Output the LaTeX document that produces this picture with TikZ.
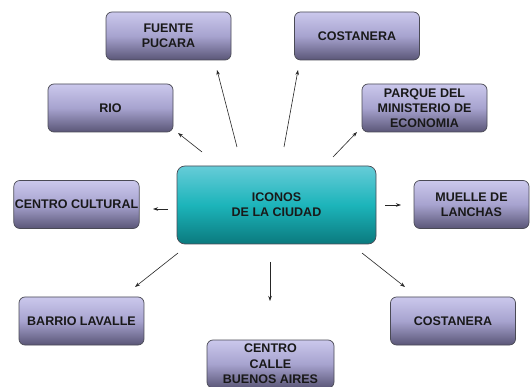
\documentclass[tikz,border=0pt]{standalone}
\usepackage{fontspec}
\setmainfont{Liberation Sans}
\usetikzlibrary{arrows.meta}
\definecolor{pTop}{HTML}{CBC8EC}
\definecolor{pMid}{HTML}{A7A3CF}
\definecolor{pBot}{HTML}{5A5677}
\definecolor{tTop}{HTML}{66CCD8}
\definecolor{tMid}{HTML}{1CB4BA}
\definecolor{tBot}{HTML}{0B7A7E}
\definecolor{edge}{HTML}{4A4A55}
\tikzset{
  leaf/.style={draw=edge, line width=0.7pt, rounded corners=6pt,
    top color=pTop, bottom color=pBot, middle color=pMid,
    minimum width=125pt, minimum height=48pt, inner sep=1pt,
    align=center, font=\fontsize{12.5}{14.8}\selectfont\bfseries, text=black!90},
  hub/.style={draw=edge, line width=0.7pt, rounded corners=8pt,
    top color=tTop, bottom color=tBot, middle color=tMid,
    minimum width=199pt, minimum height=78pt,
    align=center, font=\fontsize{12.5}{15}\selectfont\bfseries, text=black!90},
  arr/.style={-{Stealth[length=5pt,width=3.5pt]}, line width=0.6pt, black!85}
}
\begin{document}
\begin{tikzpicture}[x=1pt,y=-1pt]
\useasboundingbox (0,0) rectangle (530,387);
\clip (0,0) rectangle (530,387);
\fill[white] (0,0) rectangle (530,387);

\node[hub] (c) at (276.5,205) {ICONOS\\DE LA CIUDAD};
\node[leaf] (fuente) at (168.5,36) {FUENTE\\PUCARA};
\node[leaf] (rio) at (110.5,108) {RIO};
\node[leaf] (cost1) at (357,36) {COSTANERA};
\node[leaf] (parque) at (424.5,108) {PARQUE DEL\\MINISTERIO DE\\ECONOMIA};
\node[leaf] (cultural) at (76.5,204.5) {CENTRO CULTURAL};
\node[leaf, minimum width=115pt] (muelle) at (471.5,204.5) {MUELLE DE\\LANCHAS};
\node[leaf] (barrio) at (81.5,321) {BARRIO LAVALLE};
\node[leaf, minimum width=127pt, font=\fontsize{12.5}{15.5}\selectfont\bfseries] (calle) at (270.5,364) {CENTRO\\CALLE\\BUENOS AIRES};
\node[leaf] (cost2) at (453,321) {COSTANERA};

\coordinate (tF) at (237,147); \coordinate (hF) at (217,70);
\coordinate (tR) at (202,152); \coordinate (hR) at (178,133);
\coordinate (tC1) at (284,147); \coordinate (hC1) at (298,70);
\coordinate (tP) at (333,157); \coordinate (hP) at (357,132);
\coordinate (tCu) at (168,209); \coordinate (hCu) at (153,209);
\coordinate (tM) at (385,205); \coordinate (hM) at (401,205);
\coordinate (tB) at (178,253); \coordinate (hB) at (135,287);
\coordinate (tCa) at (270,262); \coordinate (hCa) at (270,301);
\coordinate (tC2) at (362,253); \coordinate (hC2) at (405,287);

\draw[arr] (tF) -- (hF);
\draw[arr] (tR) -- (hR);
\draw[arr] (tC1) -- (hC1);
\draw[arr] (tP) -- (hP);
\draw[arr] (tCu) -- (hCu);
\draw[arr] (tM) -- (hM);
\draw[arr] (tB) -- (hB);
\draw[arr] (tCa) -- (hCa);
\draw[arr] (tC2) -- (hC2);
\end{tikzpicture}
\end{document}
